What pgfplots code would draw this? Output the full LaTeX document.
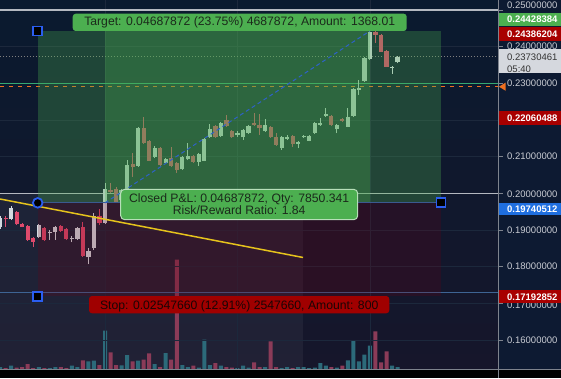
\documentclass[border=0pt]{standalone}
\usepackage{pgfplots}
\pgfplotsset{compat=1.18}
\usepackage{pgfplotstable}
\usepackage{fontspec}
\setmainfont{Liberation Sans}
\definecolor{bgtop}{HTML}{0A1A2F}
\definecolor{bgbot}{HTML}{16162B}
\definecolor{gridc}{HTML}{1C283C}
\definecolor{upc}{HTML}{D3DAE0}
\definecolor{downc}{HTML}{DE4A6C}
\definecolor{upv}{HTML}{2C6A7A}
\definecolor{downv}{HTML}{8B3B58}
\definecolor{tgreen}{HTML}{4CAF50}
\definecolor{redov}{HTML}{6E0014}
\definecolor{stopred}{HTML}{A00000}
\definecolor{lblred}{HTML}{A80000}
\definecolor{lblblue}{HTML}{1F6FE0}
\definecolor{hblue}{HTML}{2B5EF0}
\definecolor{grayline}{HTML}{B4B8C0}
\definecolor{greenline}{HTML}{35A872}
\definecolor{orangec}{HTML}{F07020}
\definecolor{scaletext}{HTML}{C9CCD3}
\definecolor{scaleline}{HTML}{7E838D}
\definecolor{curbox}{HTML}{D5D8DE}
\definecolor{yell}{HTML}{E6C31C}
\definecolor{dashblue}{HTML}{2E62C8}
\definecolor{entryc}{HTML}{3A5A90}
\definecolor{stopline}{HTML}{3E6494}
\definecolor{scalebg}{HTML}{0D1A32}
\definecolor{boxtext}{HTML}{1B2A1B}
\definecolor{stoptext}{HTML}{1A0505}
\definecolor{pnlborder}{HTML}{B7DFB9}
\newcommand{\bx}{\fontsize{12.2}{12.2}\selectfont}
\newcommand{\scl}{\fontsize{9.5}{11}\selectfont}
\pgfplotsset{candle/.style={only marks, mark size=0pt, mark options={draw=none, fill=none},
  error bars/.cd, y dir=plus, y explicit, error mark=none}}

\pgfplotstableread{
n o h l c
-19 0.19082 0.19382 0.19028 0.19328
-17 0.19292 0.19655 0.19273 0.19609
-12 0.18802 0.19164 0.18782 0.19137
-10 0.18911 0.19001 0.18728 0.18954
-9 0.18938 0.19110 0.18728 0.19074
-6 0.18755 0.18845 0.18665 0.18791
-5 0.18755 0.19096 0.18728 0.19063
-3 0.18264 0.18518 0.18065 0.18428
-2 0.18502 0.19456 0.18455 0.19391
0 0.19191 0.20274 0.19164 0.20111
3 0.19819 0.20119 0.19764 0.20091
4 0.20091 0.20909 0.20064 0.20773
6 0.20746 0.21809 0.20719 0.21774
9 0.20999 0.21278 0.20964 0.21245
11 0.20820 0.20964 0.20787 0.20937
14 0.20656 0.21032 0.20637 0.20999
15 0.20929 0.21373 0.20896 0.21027
17 0.20863 0.21100 0.20746 0.21073
18 0.20890 0.21509 0.20869 0.21474
19 0.21529 0.21891 0.21509 0.21747
21 0.21572 0.21959 0.21537 0.21927
24 0.21578 0.21687 0.21550 0.21654
25 0.21529 0.21755 0.21455 0.21728
26 0.21654 0.21864 0.21632 0.21837
29 0.21700 0.22019 0.21673 0.21864
32 0.21229 0.21564 0.21182 0.21529
33 0.21490 0.21591 0.21455 0.21529
35 0.21346 0.21428 0.21229 0.21400
36 0.21529 0.21591 0.21496 0.21564
37 0.21436 0.21591 0.21414 0.21564
38 0.21654 0.21946 0.21632 0.21910
39 0.21872 0.22047 0.21850 0.21910
40 0.22109 0.22319 0.22082 0.22156
42 0.21747 0.21891 0.21638 0.21864
44 0.21818 0.22319 0.21796 0.22090
45 0.22109 0.22873 0.22082 0.22846
46 0.22818 0.23091 0.22682 0.22865
47 0.23064 0.23718 0.23037 0.23683
48 0.23656 0.24455 0.23636 0.24408
52 0.23427 0.23473 0.23268 0.23454
53 0.23574 0.23746 0.23547 0.23730
}\upT

\pgfplotstableread{
n o h l c
-18 0.19320 0.19391 0.19091 0.19292
-16 0.19483 0.19519 0.19137 0.19156
-15 0.19164 0.19191 0.19069 0.19091
-14 0.19110 0.19137 0.18701 0.18728
-13 0.18774 0.18810 0.18545 0.18682
-11 0.19047 0.19082 0.18701 0.18728
-8 0.19102 0.19137 0.18946 0.18973
-7 0.19020 0.19055 0.18728 0.18755
-4 0.19074 0.19211 0.18264 0.18292
-1 0.19382 0.19573 0.19137 0.19191
1 0.20105 0.20282 0.20010 0.20050
2 0.20132 0.20173 0.19737 0.19772
5 0.20800 0.21100 0.20446 0.20719
7 0.21774 0.22090 0.21359 0.21381
8 0.21428 0.21455 0.20869 0.20890
10 0.21229 0.21264 0.20746 0.20773
12 0.20956 0.21272 0.20719 0.20746
13 0.20820 0.20855 0.20555 0.20637
16 0.21027 0.21059 0.20841 0.20863
20 0.21837 0.21864 0.21509 0.21529
22 0.22000 0.22137 0.21823 0.21845
23 0.21708 0.21741 0.21509 0.21529
27 0.21927 0.22183 0.21837 0.21864
28 0.21864 0.22164 0.21591 0.21774
30 0.21818 0.21850 0.21509 0.21529
31 0.21529 0.21638 0.21291 0.21319
34 0.21564 0.21591 0.21272 0.21346
41 0.22109 0.22137 0.21837 0.21864
43 0.22028 0.22055 0.21959 0.21981
49 0.24408 0.24441 0.24108 0.24318
50 0.24318 0.24346 0.23841 0.23863
51 0.23890 0.23909 0.23432 0.23454
}\downT

\pgfplotstableread{
n v
-19 2.0
-17 3.3
-12 2.0
-10 1.0
-9 2.0
-6 3.3
-5 2.0
-3 7.6
-2 8.3
0 38.3
3 3.6
4 14
6 8.3
9 5
11 16
14 4
15 2
17 1.3
18 29.3
19 4
21 3.3
24 1
25 3.3
26 1.3
29 2
32 1
33 2
35 2
36 2
37 1
38 1.3
39 6
40 3.3
42 1.3
44 8.6
45 28.3
46 7.6
47 14.3
48 23.3
52 3.3
53 2
}\upV

\pgfplotstableread{
n v
-18 1.0
-16 1.3
-15 2.0
-14 5.0
-13 1.0
-11 1.0
-8 2.0
-7 1.0
-4 8.6
-1 4.0
1 16.6
2 4.0
5 7.6
7 9.3
8 15.6
10 2
12 9.3
13 109.3
16 3.3
20 6
22 2
23 1.3
27 6.6
28 2
30 27.6
31 2
34 1
41 2
43 3.3
49 37.6
50 6.6
51 17.6
}\downV

\begin{document}
\begin{tikzpicture}
\fill[black] (0,0) rectangle (561pt,378pt);
\begin{scope}[x=1pt,y=-1pt,shift={(0pt,378pt)}]
\shade[top color=bgtop, bottom color=bgbot] (0,0) rectangle (498,369);
\fill[scalebg] (498,0) rectangle (561,369);
\end{scope}

% volume pane
\begin{axis}[scale only axis, width=498pt, height=369pt, at={(0pt,9pt)}, anchor=south west,
  xmin=-19.022, xmax=71.196, ymin=0, ymax=369,
  axis line style={draw=none}, xtick=\empty, ytick=\empty, clip=true]
\addplot[fill=white, fill opacity=0.05, draw=none] coordinates {(-19.022,0) (35.87,0) (35.87,176) (-19.022,176)};
\addplot[ybar, bar width=4pt, bar shift=0pt, fill=upv, draw=none] table[x=n,y=v] {\upV};
\addplot[ybar, bar width=4pt, bar shift=0pt, fill=downv, draw=none] table[x=n,y=v] {\downV};
\end{axis}

% price pane
\begin{axis}[scale only axis, width=498pt, height=369pt, at={(0pt,9pt)}, anchor=south west,
  xmin=-19.022, xmax=71.196, ymin=0.152100, ymax=0.252727,
  axis line style={draw=none}, xtick={0,24,48},
  ytick={0.16,0.17,0.18,0.19,0.20,0.21,0.22,0.23,0.24,0.25},
  xticklabels={}, yticklabels={}, major tick length=0pt,
  grid=major, major grid style={draw=gridc, line width=0.7pt}, clip=true]
\addplot[grayline, line width=1.5pt] coordinates {(-19.022,0.25) (71.196,0.25)};
\addplot[grayline, line width=1.5pt] coordinates {(-19.022,0.20) (71.196,0.20)};
\addplot[greenline, line width=1.4pt] coordinates {(-19.022,0.2300) (71.196,0.2300)};
\addplot[orangec, line width=1pt, dash pattern=on 4pt off 5pt] coordinates {(-19.022,0.22927) (71.196,0.22927)};
\addplot[gray, line width=0.8pt, dash pattern=on 1pt off 2pt] coordinates {(-19.022,0.23730) (71.196,0.23730)};
\addplot[stopline, line width=1.2pt] coordinates {(-19.022,0.17291) (71.196,0.17291)};
% candles: wicks and bodies
\addplot[candle, error bar style={draw=upc, line width=1pt}] table[x=n, y=l, y error expr=\thisrow{h}-\thisrow{l}] {\upT};
\addplot[candle, error bar style={draw=upc, line width=4.2pt}] table[x=n, y=o, y error expr=\thisrow{c}-\thisrow{o}] {\upT};
\addplot[candle, error bar style={draw=downc, line width=1pt}] table[x=n, y=l, y error expr=\thisrow{h}-\thisrow{l}] {\downT};
\addplot[candle, error bar style={draw=downc, line width=4.2pt}] table[x=n, y=c, y error expr=\thisrow{o}-\thisrow{c}] {\downT};
% position overlays
\addplot[draw=none, fill=tgreen, fill opacity=0.30] coordinates {(-12.19,0.19740512) (60.87,0.19740512) (60.87,0.24428384) (-12.19,0.24428384)};
\addplot[draw=none, fill=tgreen, fill opacity=0.31] coordinates {(0,0.19740512) (48,0.19740512) (48,0.24428384) (0,0.24428384)};
\addplot[draw=none, fill=redov, fill opacity=0.22] coordinates {(-12.19,0.17192852) (60.87,0.17192852) (60.87,0.19740512) (-12.19,0.19740512)};
\addplot[draw=none, fill=redov, fill opacity=0.06] coordinates {(0,0.17192852) (48,0.17192852) (48,0.19740512) (0,0.19740512)};
\addplot[entryc, line width=0.8pt] coordinates {(-12.19,0.19740512) (60.87,0.19740512)};
\addplot[dashblue, line width=1pt, dash pattern=on 4pt off 3pt] coordinates {(0,0.19740512) (48,0.24428384)};
\addplot[yell, line width=1.5pt] coordinates {(-19.022,0.19846) (35.87,0.18251)};
% handles
\addplot[only marks, mark=square*, mark size=4.5pt, mark options={fill=black, draw=hblue, line width=1.8pt, rounded corners=2pt}] coordinates {(-12.19,0.24428384) (-12.19,0.17192852) (60.87,0.19740512)};
\addplot[only marks, mark=*, mark size=4.8pt, mark options={fill=black, draw=hblue, line width=1.8pt}] coordinates {(-12.19,0.19740512)};
\end{axis}

\begin{scope}[x=1pt,y=-1pt,shift={(0pt,378pt)}]
% labels on chart
\fill[tgreen, rounded corners=3pt] (72.7,13.7) rectangle (406.7,31);
\node[anchor=base, inner sep=0pt, text=boxtext, font=\bx] at (239.7,26) {Target: 0.04687872 (23.75\%) 4687872, Amount: 1368.01};
\filldraw[fill=tgreen, draw=pnlborder, line width=1pt, rounded corners=4pt] (120.7,189.3) rectangle (357.7,219.7);
\node[anchor=base, inner sep=0pt, text=boxtext, font=\bx] at (239.2,202) {Closed P\&L: 0.04687872, Qty: 7850.341};
\node[anchor=base, inner sep=0pt, text=boxtext, font=\bx] at (239.2,214.3) {Risk/Reward Ratio: 1.84};
\fill[stopred, rounded corners=3pt] (89,296) rectangle (389.3,313.3);
\node[anchor=base, inner sep=0pt, text=stoptext, font=\bx] at (239.2,309.3) {Stop: 0.02547660 (12.91\%) 2547660, Amount: 800};
% bottom strip and scale border
\fill[black] (0,369) rectangle (561,378);
\draw[scaleline, line width=1pt] (0,369.5) -- (561,369.5);
\draw[scaleline, line width=1pt] (498.5,0) -- (498.5,378);
\foreach \yy in {10,46.7,83.3,120,156.7,193.3,230,266.7,303.4,340}
  \draw[scaleline, line width=0.8pt] (498.5,\yy) -- (503,\yy);
\foreach \yy/\lab in {5.7/0.25000000,46.7/0.24000000,83.3/0.23000000,156.7/0.21000000,193.8/0.20000000,230/0.19000000,266.7/0.18000000,340/0.16000000}
  \node[anchor=west, inner sep=0pt, text=scaletext, font=\scl] at (507,\yy) {\lab};
\begin{scope}
\clip (499,303.4) rectangle (561,312);
\node[anchor=west, inner sep=0pt, text=scaletext, font=\scl] at (507,305.2) {0.17000000};
\end{scope}
% special scale labels
\fill[tgreen] (499,12.7) rectangle (561,26);
\node[anchor=west, inner sep=0pt, text=white, font=\scl\bfseries] at (507,19.3) {0.24428384};
\fill[lblred] (499,27) rectangle (561,40.7);
\node[anchor=west, inner sep=0pt, text=white, font=\scl\bfseries] at (507,33.8) {0.24386204};
\fill[curbox] (499,49.3) rectangle (561,72.7);
\node[anchor=west, inner sep=0pt, text=black!80, font=\scl] at (507,57.3) {0.23730461};
\node[anchor=west, inner sep=0pt, text=black!80, font=\scl] at (507,69.3) {05:40};
\fill[orangec] (499,86.7) -- (505.5,82.7) -- (505.5,90.7) -- cycle;
\fill[lblred] (499,111) rectangle (561,125.3);
\node[anchor=west, inner sep=0pt, text=white, font=\scl\bfseries] at (507,118.2) {0.22060488};
\fill[lblblue] (499,202.7) rectangle (561,215);
\node[anchor=west, inner sep=0pt, text=white, font=\scl\bfseries] at (507,208.8) {0.19740512};
\fill[lblred] (499,290.3) rectangle (561,303.3);
\node[anchor=west, inner sep=0pt, text=white, font=\scl\bfseries] at (507,296.8) {0.17192852};
\end{scope}
\pgfresetboundingbox
\useasboundingbox (0,0) rectangle (561pt,378pt);
\end{tikzpicture}
\end{document}
